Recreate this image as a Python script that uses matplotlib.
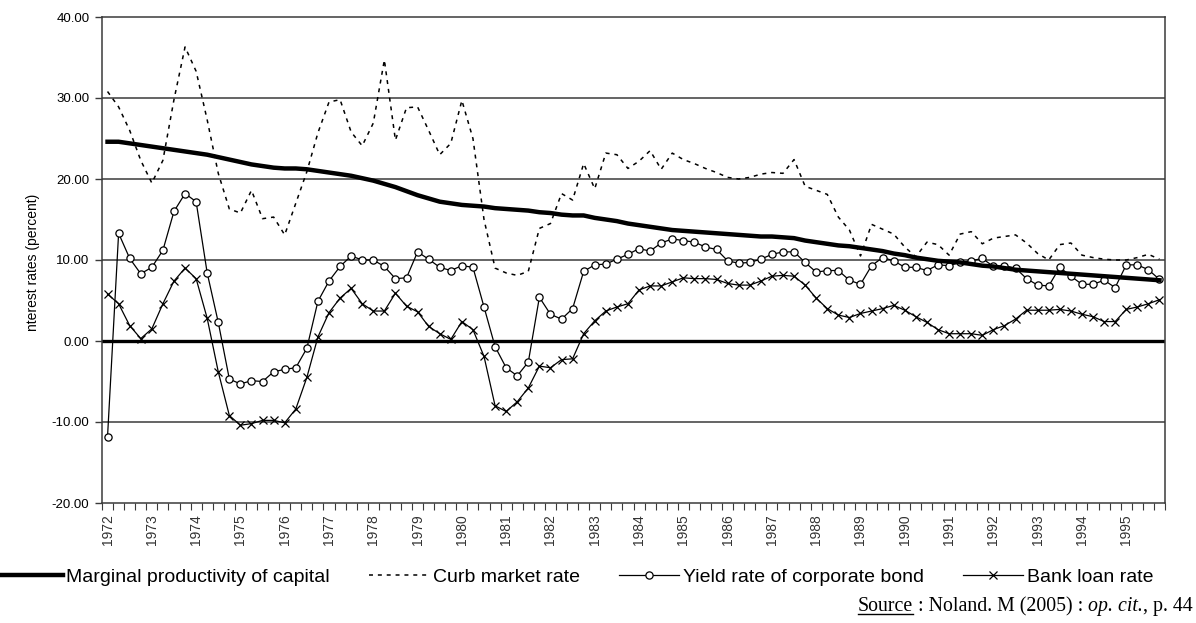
import numpy as np
import matplotlib
matplotlib.use('Agg')
import matplotlib.pyplot as plt
from matplotlib.lines import Line2D

# ---------------- data (quarterly, 1972Q1 .. 1995Q4) ----------------
years = list(range(1972, 1996))

mpc = [24.6, 24.6, 24.4, 24.2, 24.0, 23.8, 23.6, 23.4, 23.2, 23.0, 22.7, 22.4,
       22.1, 21.8, 21.6, 21.4, 21.3, 21.3, 21.2, 21.0, 20.8, 20.6, 20.4, 20.1,
       19.8, 19.4, 19.0, 18.5, 18.0, 17.6, 17.2, 17.0, 16.8, 16.7, 16.6, 16.4,
       16.3, 16.2, 16.1, 15.9, 15.8, 15.6, 15.5, 15.5, 15.2, 15.0, 14.8, 14.5,
       14.3, 14.1, 13.9, 13.7, 13.6, 13.5, 13.4, 13.3, 13.2, 13.1, 13.0, 12.9,
       12.9, 12.8, 12.7, 12.4, 12.2, 12.0, 11.8, 11.7, 11.5, 11.3, 11.1, 10.8,
       10.6, 10.3, 10.1, 9.9, 9.8, 9.7, 9.5, 9.3, 9.2, 9.0, 8.8, 8.7,
       8.6, 8.5, 8.4, 8.3, 8.2, 8.1, 8.0, 7.9, 7.8, 7.7, 7.6, 7.5]

curb = [30.8, 28.9, 26.0, 22.3, 19.5, 22.3, 29.8, 36.3, 33.3, 27.3, 20.7, 16.3,
        15.8, 18.6, 15.1, 15.3, 13.1, 17.0, 20.9, 25.7, 29.5, 29.8, 25.8, 24.1,
        26.9, 34.7, 24.8, 28.8, 28.9, 26.0, 23.0, 24.4, 29.7, 25.0, 15.0, 9.0,
        8.4, 8.1, 8.6, 13.9, 14.5, 18.2, 17.4, 21.9, 18.8, 23.2, 23.0, 21.3,
        22.2, 23.5, 21.2, 23.2, 22.4, 21.9, 21.3, 20.8, 20.2, 20.0, 20.2, 20.6,
        20.8, 20.7, 22.4, 19.1, 18.6, 18.1, 15.3, 13.7, 10.5, 14.4, 13.8, 13.2,
        11.6, 10.4, 12.2, 11.9, 10.6, 13.2, 13.5, 12.0, 12.7, 12.9, 13.1, 12.1,
        10.8, 10.0, 11.9, 12.1, 10.6, 10.3, 10.1, 10.0, 10.0, 10.3, 10.7, 10.1]

bond_yield = [-11.8, 13.3, 10.2, 8.3, 9.1, 11.2, 16.0, 18.2, 17.2, 8.4, 2.3, -4.7,
              -5.3, -4.9, -5.0, -3.8, -3.5, -3.3, -0.9, 4.9, 7.4, 9.2, 10.5, 10.0,
              10.0, 9.2, 7.7, 7.8, 11.0, 10.1, 9.1, 8.7, 9.3, 9.1, 4.2, -0.7,
              -3.3, -4.3, -2.6, 5.4, 3.3, 2.7, 4.0, 8.6, 9.4, 9.5, 10.1, 10.7,
              11.4, 11.1, 12.1, 12.6, 12.4, 12.2, 11.6, 11.3, 9.9, 9.6, 9.7, 10.1,
              10.7, 11.0, 11.0, 9.7, 8.5, 8.7, 8.7, 7.5, 7.0, 9.3, 10.3, 9.9,
              9.1, 9.1, 8.7, 9.4, 9.3, 9.7, 9.9, 10.2, 9.2, 9.3, 9.0, 7.7,
              6.9, 6.8, 9.1, 8.0, 7.0, 7.0, 7.5, 6.6, 9.4, 9.4, 8.8, 7.6]

bank_loan = [5.8, 4.6, 1.9, 0.3, 1.5, 4.6, 7.4, 9.0, 7.7, 2.8, -3.8, -9.2,
             -10.4, -10.2, -9.8, -9.8, -10.1, -8.4, -4.5, 0.5, 3.5, 5.3, 6.5, 4.6,
             3.7, 3.7, 5.9, 4.3, 3.6, 1.8, 0.9, 0.2, 2.4, 1.4, -1.9, -8.0,
             -8.7, -7.5, -5.8, -3.1, -3.3, -2.3, -2.2, 0.9, 2.5, 3.7, 4.2, 4.6,
             6.3, 6.8, 6.8, 7.3, 7.8, 7.7, 7.7, 7.6, 7.1, 6.9, 6.9, 7.4,
             8.0, 8.1, 8.0, 6.9, 5.3, 4.0, 3.2, 2.9, 3.4, 3.7, 4.0, 4.4,
             3.8, 3.0, 2.3, 1.4, 0.9, 0.9, 0.9, 0.7, 1.4, 1.9, 2.7, 3.8,
             3.8, 3.8, 3.9, 3.7, 3.3, 3.0, 2.4, 2.4, 3.9, 4.2, 4.6, 5.1]

y_ticks = [-20, -10, 0, 10, 20, 30, 40]
series_labels = ['Marginal productivity of capital', 'Curb market rate',
                 'Yield rate of corporate bond', 'Bank loan rate']

# ---------------- figure ----------------
plt.rcParams['axes.unicode_minus'] = False
plt.rcParams['font.family'] = ['Liberation Sans', 'DejaVu Sans']

W, H = 1196, 623
fig = plt.figure(figsize=(W / 100, H / 100), dpi=100)
L, R, T, B = 102, 1165, 17, 503
ax = fig.add_axes([L / W, 1 - B / H, (R - L) / W, (B - T) / H])

x = np.arange(len(mpc))
h1, = ax.plot(x, mpc, color='black', lw=3.2, zorder=6, label=series_labels[0])
h2, = ax.plot(x, curb, color='black', lw=1.1, ls=(0, (2.6, 3.2)), zorder=5,
              label=series_labels[1])
h3, = ax.plot(x, bond_yield, color='black', lw=0.9, marker='o', ms=5.2,
              mfc='white', mec='black', mew=0.9, zorder=5, label=series_labels[2])
h4, = ax.plot(x, bank_loan, color='black', lw=0.9, marker='x', ms=5.5,
              mew=0.9, zorder=5, label=series_labels[3])

ax.set_xlim(-0.5, len(mpc) - 0.5)
ax.set_ylim(-20, 40)

for v in y_ticks:
    if v in (-20, 0, 40):
        continue
    ax.axhline(v, color='#3a3a3a', lw=1.1, zorder=1)
ax.axhline(0, color='black', lw=2.4, zorder=2)

ax.set_yticks(y_ticks)
ax.set_yticklabels([f'{v:.2f}' for v in y_ticks], fontsize=9.5)
ax.tick_params(axis='y', direction='out', length=5, width=1, color='#3a3a3a', pad=4)

# x axis: category boundaries as ticks, year labels every 4th quarter
ax.set_xticks(np.arange(-0.5, len(mpc), 1))
ax.set_xticklabels([])
ax.tick_params(axis='x', which='major', direction='out', length=5, width=0.8,
               color='#3a3a3a')
ax.set_xticks(np.arange(0, len(mpc), 4), minor=True)
ax.set_xticklabels([str(y) for y in years], minor=True, rotation=90, fontsize=10,
                   color='#333333')
ax.tick_params(axis='x', which='minor', length=0, pad=8)

for s in ax.spines.values():
    s.set_color('#3a3a3a')
    s.set_linewidth(1.1)

fig.text(33 / W, 1 - 262 / H, 'nterest rates (percent)', rotation=90,
         ha='center', va='center', fontsize=10)

fig.legend(handles=[h1, h2, h3, h4], loc='center', bbox_to_anchor=(578 / W, 1 - 577 / H),
           ncol=4, frameon=False, handlelength=3.1, handletextpad=0.2,
           columnspacing=2.0, numpoints=1, fontsize=14)

# source line
serif = ['Liberation Serif', 'DejaVu Serif']
fs = 14.3
t0 = fig.text(858 / W, 1 - 611 / H, 'Source', family=serif, fontsize=fs, va='baseline')
t1 = ax.annotate(' : Noland. M (2005) : ', xycoords=t0, xy=(1, 0), va='bottom',
                 family=serif, fontsize=fs, annotation_clip=False)
t2 = ax.annotate('op. cit.', xycoords=t1, xy=(1, 0), va='bottom',
                 family=serif, fontsize=fs, style='italic', annotation_clip=False)
t3 = ax.annotate(', p. 44', xycoords=t2, xy=(1, 0), va='bottom',
                 family=serif, fontsize=fs, annotation_clip=False)

fig.canvas.draw()
bb = t0.get_window_extent()
yl = bb.y0 + 2.0
fig.add_artist(Line2D([bb.x0 / W, bb.x1 / W], [yl / H, yl / H], color='black',
                      lw=1.0, transform=fig.transFigure))

fig.savefig('out.png', dpi=100)
